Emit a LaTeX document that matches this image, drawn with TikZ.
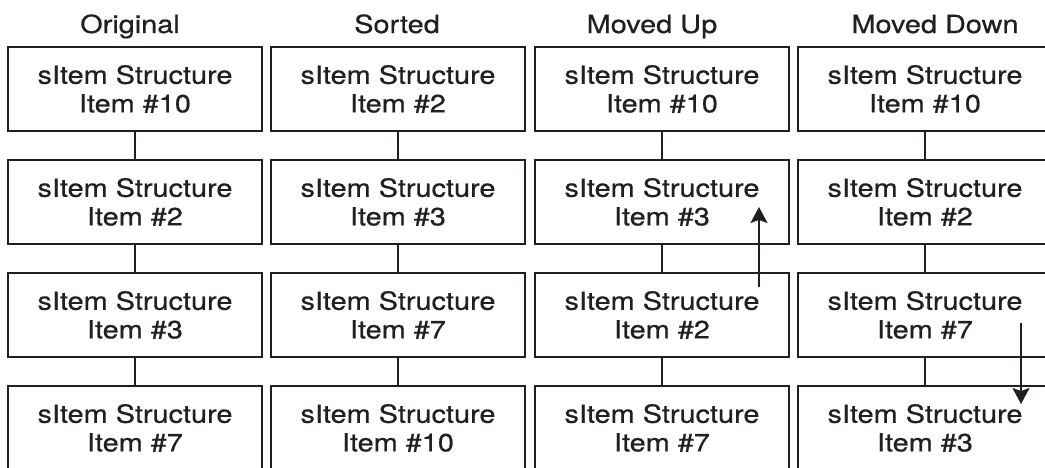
\documentclass[tikz,border=0pt]{standalone}
\usepackage{fontspec}
\setmainfont{TeX Gyre Heros}[FakeStretch=1.155,FakeBold=0.6]
\usetikzlibrary{arrows.meta}
\definecolor{ink}{RGB}{35,31,32}
\begin{document}
\begin{tikzpicture}[x=1pt,y=-1pt,
  itembox/.style={draw=ink, line width=2.2pt, minimum width=254pt, minimum height=84pt,
    inner sep=0pt, align=center, text=ink, font=\fontsize{25}{28.6}\selectfont},
  header/.style={text=ink, inner sep=0pt, anchor=base, font=\fontsize{25}{28.6}\selectfont},
  link/.style={draw=ink, line width=2.2pt},
  move/.style={draw=ink, line width=1.8pt, -{Stealth[width=17pt,length=16pt,inset=3pt]}}]
\useasboundingbox (0,0) rectangle (1045,467);
\clip (0,0) rectangle (1045,467);
% headers
\node[header] (h1) at (130,33) {Original};
\node[header] (h2) at (397,33) {Sorted};
\node[header] (h3) at (652,33) {Moved Up};
\node[header] (h4) at (935,33) {Moved Down};
% column 1
\node[itembox] (a1) at (135,89)  {sItem Structure\\Item \#10};
\node[itembox] (a2) at (135,202) {sItem Structure\\Item \#2};
\node[itembox] (a3) at (135,315) {sItem Structure\\Item \#3};
\node[itembox] (a4) at (135,428) {sItem Structure\\Item \#7};
% column 2
\node[itembox] (b1) at (398,89)  {sItem Structure\\Item \#2};
\node[itembox] (b2) at (398,202) {sItem Structure\\Item \#3};
\node[itembox] (b3) at (398,315) {sItem Structure\\Item \#7};
\node[itembox] (b4) at (398,428) {sItem Structure\\Item \#10};
% column 3
\node[itembox] (c1) at (662,89)  {sItem Structure\\Item \#10};
\node[itembox] (c2) at (662,202) {sItem Structure\\Item \#3};
\node[itembox] (c3) at (662,315) {sItem Structure\\Item \#2};
\node[itembox] (c4) at (662,428) {sItem Structure\\Item \#7};
% column 4
\node[itembox] (d1) at (925,89)  {sItem Structure\\Item \#10};
\node[itembox] (d2) at (925,202) {sItem Structure\\Item \#2};
\node[itembox] (d3) at (925,315) {sItem Structure\\Item \#7};
\node[itembox] (d4) at (925,428) {sItem Structure\\Item \#3};
% links
\foreach \c in {a,b,c,d}{
  \draw[link] (\c1.south) -- (\c2.north);
  \draw[link] (\c2.south) -- (\c3.north);
  \draw[link] (\c3.south) -- (\c4.north);
}
% move arrows
\coordinate (upstart) at (759,287);
\coordinate (upend) at (759,207);
\coordinate (downstart) at (1021,323);
\coordinate (downend) at (1021,404);
\draw[move] (upstart) -- (upend);
\draw[move] (downstart) -- (downend);
\end{tikzpicture}
\end{document}
